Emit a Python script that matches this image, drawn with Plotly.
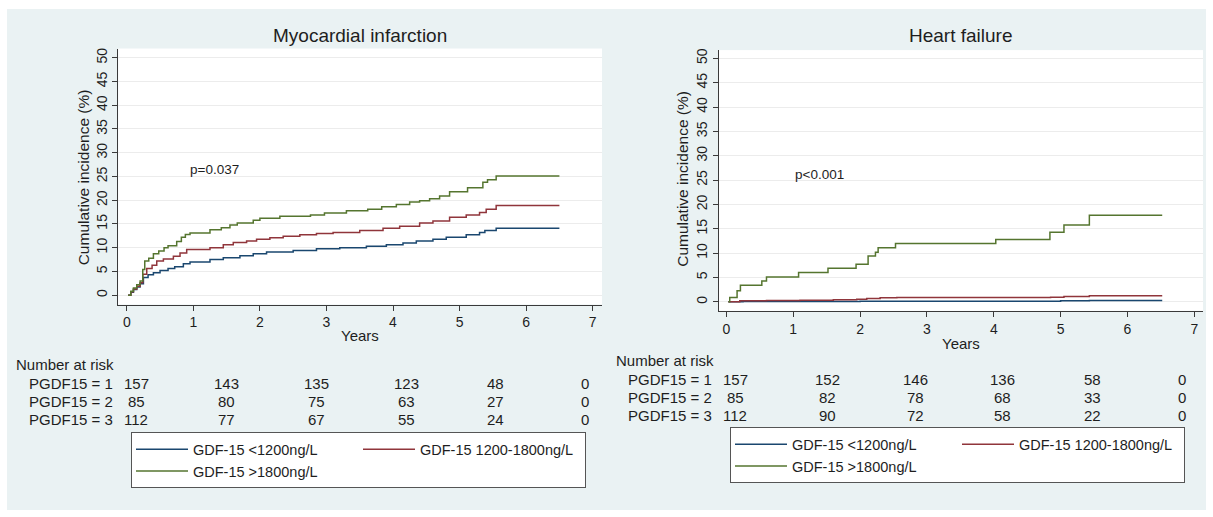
import plotly.graph_objects as go

# ---------------- data ----------------
SERIES_NAMES = ["GDF-15 <1200ng/L", "GDF-15 1200-1800ng/L", "GDF-15 >1800ng/L"]
SERIES_COLORS = ["rgb(26,71,111)", "rgb(144,53,59)", "rgb(85,117,47)"]

# Myocardial infarction (years, cumulative incidence %)
MI_T_LOW = [0.02, 0.06, 0.10, 0.15, 0.20, 0.25, 0.32, 0.40, 0.50, 0.62, 0.72, 0.85, 0.95, 1.25, 1.45, 1.70,
            1.90, 2.10, 2.50, 2.85, 3.20, 3.60, 3.90, 4.15, 4.35, 4.60, 4.80, 5.10, 5.30, 5.38, 5.55, 6.50]
MI_V_LOW = [0, 0.6, 1.2, 1.7, 2.4, 3.7, 4.3, 4.7, 5.2, 5.6, 6.0, 6.6, 7.0, 7.5, 7.9, 8.3,
            8.7, 9.1, 9.4, 9.8, 10.0, 10.3, 10.6, 11.0, 11.4, 11.8, 12.2, 12.7, 13.2, 13.6, 14.1, 14.1]
MI_T_MID = [0.02, 0.06, 0.10, 0.15, 0.20, 0.24, 0.30, 0.38, 0.45, 0.55, 0.70, 0.80, 0.90, 1.25, 1.45, 1.60,
            1.80, 1.95, 2.15, 2.35, 2.60, 2.85, 3.10, 3.50, 3.85, 4.10, 4.40, 4.60, 4.85, 5.10, 5.30, 5.40,
            5.55, 6.50]
MI_V_MID = [0, 0.7, 1.3, 1.9, 2.6, 4.4, 5.6, 6.3, 7.2, 7.6, 8.2, 8.9, 9.6, 10.0, 10.6, 11.1,
            11.4, 11.8, 12.1, 12.4, 12.7, 13.0, 13.2, 13.6, 14.1, 14.5, 15.2, 15.6, 16.4, 16.9, 17.4, 18.1,
            18.9, 18.9]
MI_T_HIGH = [0.02, 0.06, 0.10, 0.15, 0.20, 0.24, 0.27, 0.33, 0.40, 0.48, 0.56, 0.62, 0.75, 0.82, 0.88, 0.95,
             1.25, 1.42, 1.55, 1.66, 1.90, 2.00, 2.30, 2.76, 2.97, 3.30, 3.62, 3.83, 4.05, 4.25, 4.40, 4.55,
             4.70, 4.85, 5.12, 5.35, 5.42, 5.55, 6.50]
MI_V_HIGH = [0, 0.8, 1.5, 2.2, 3.0, 5.4, 7.2, 7.8, 8.7, 9.3, 10.0, 10.4, 11.3, 12.2, 12.8, 13.1,
             13.8, 14.2, 14.8, 15.2, 15.8, 16.2, 16.6, 16.9, 17.3, 17.8, 18.1, 18.6, 19.1, 19.6, 19.9, 20.3,
             20.9, 21.8, 22.6, 23.8, 24.3, 25.1, 25.1]

# Heart failure
HF_T_LOW = [0.03, 0.25, 1.00, 2.00, 5.00, 5.43, 6.52]
HF_V_LOW = [0, 0.05, 0.08, 0.10, 0.20, 0.25, 0.25]
HF_T_MID = [0.03, 0.20, 0.60, 1.10, 1.60, 1.95, 2.10, 2.30, 2.55, 4.85, 5.05, 5.43, 6.52]
HF_V_MID = [0, 0.20, 0.30, 0.35, 0.45, 0.55, 0.70, 0.85, 0.90, 0.95, 1.10, 1.25, 1.25]
HF_T_HIGH = [0.03, 0.05, 0.16, 0.21, 0.53, 0.60, 1.08, 1.52, 1.94, 2.12, 2.23, 2.27, 2.53, 4.03, 4.84,
             5.05, 5.43, 6.52]
HF_V_HIGH = [0, 0.9, 2.3, 3.4, 4.3, 5.1, 6.0, 6.9, 7.7, 9.4, 10.2, 11.1, 12.0, 12.8, 14.3,
             15.8, 17.8, 17.8]

X_TICKS = [0, 1, 2, 3, 4, 5, 6, 7]
Y_TICKS = [0, 5, 10, 15, 20, 25, 30, 35, 40, 45, 50]

RISK_ROW_LABELS = ["PGDF15 = 1", "PGDF15 = 2", "PGDF15 = 3"]
MI_RISK_LOW = [157, 143, 135, 123, 48, 0]
MI_RISK_MID = [85, 80, 75, 63, 27, 0]
MI_RISK_HIGH = [112, 77, 67, 55, 24, 0]
HF_RISK_LOW = [157, 152, 146, 136, 58, 0]
HF_RISK_MID = [85, 82, 78, 68, 33, 0]
HF_RISK_HIGH = [112, 90, 72, 58, 22, 0]

MI_TITLE = "Myocardial infarction"
HF_TITLE = "Heart failure"
MI_P = "p=0.037"
HF_P = "p<0.001"

# ---------------- layout helpers ----------------
W, H = 1213, 517
FONT = "Arial, 'Liberation Sans', sans-serif"
TXT = "#1e1e1e"


def fx(p):
    return p / W


def fy(p):
    return 1 - p / H


fig = go.Figure()

panels = [
    dict(xa="x", ya="y", legend="legend",
         data=[(MI_T_LOW, MI_V_LOW), (MI_T_MID, MI_V_MID), (MI_T_HIGH, MI_V_HIGH)]),
    dict(xa="x2", ya="y2", legend="legend2",
         data=[(HF_T_LOW, HF_V_LOW), (HF_T_MID, HF_V_MID), (HF_T_HIGH, HF_V_HIGH)]),
]
groups = ["a", "b", "a"]
for p in panels:
    for i, (t, v) in enumerate(p["data"]):
        fig.add_trace(go.Scatter(
            x=t, y=v, mode="lines", line=dict(color=SERIES_COLORS[i], width=1.5, shape="hv"),
            name=SERIES_NAMES[i], xaxis=p["xa"], yaxis=p["ya"], legend=p["legend"],
            legendgroup=p["legend"] + groups[i], hoverinfo="skip"))

axis_common = dict(showline=True, linecolor="#3a3a3a", linewidth=1, ticks="outside", ticklen=5,
                   tickwidth=1, tickcolor="#3a3a3a", zeroline=False,
                   tickfont=dict(family=FONT, size=14, color=TXT))
xcommon = dict(axis_common, showgrid=False, tickvals=X_TICKS)
ycommon = dict(axis_common, showgrid=True, gridcolor="#ececec", gridwidth=1, tickvals=Y_TICKS,
               tickangle=-90)

legend_common = dict(orientation="h", xanchor="left", yanchor="top", bgcolor="white",
                     bordercolor="#555555", borderwidth=1, traceorder="grouped",
                     itemwidth=52, entrywidth=160, tracegroupgap=0,
                     font=dict(family=FONT, size=14.5, color=TXT))

fig.update_layout(
    width=W, height=H, margin=dict(l=0, r=0, t=0, b=0),
    paper_bgcolor="#eaf2f3", plot_bgcolor="white",
    font=dict(family=FONT, color=TXT),
    xaxis=dict(xcommon, domain=[fx(118.2), fx(602)], range=[-0.129, 7.14], anchor="y"),
    yaxis=dict(ycommon, domain=[fy(303.7), fy(46.7)], range=[-1.97, 51.95], anchor="x"),
    xaxis2=dict(xcommon, domain=[fx(718.7), fx(1203)], range=[-0.115, 7.13], anchor="y2"),
    yaxis2=dict(ycommon, domain=[fy(310), fy(48.3)], range=[-1.84, 51.7], anchor="x2"),
    legend=dict(legend_common, x=fx(131), y=fy(432)),
    legend2=dict(legend_common, x=fx(730), y=fy(427)),
    showlegend=True,
)

# white outer frame
fig.add_shape(type="rect", xref="paper", yref="paper", x0=0, y0=0, x1=1, y1=1,
              line=dict(color="white", width=14), fillcolor="rgba(0,0,0,0)", layer="above")

ann = []


def txt(x, y, s, size, xanchor="center", angle=0, xref="paper", yref="paper"):
    ann.append(dict(x=x, y=y, text=s, xref=xref, yref=yref, xanchor=xanchor, yanchor="middle",
                    showarrow=False, textangle=angle, font=dict(family=FONT, size=size, color=TXT)))


# titles, axis titles, p-values
txt(fx(360), fy(34), MI_TITLE, 19)
txt(fx(961), fy(34), HF_TITLE, 19)
txt(fx(360), fy(335), "Years", 15)
txt(fx(961), fy(343), "Years", 15)
txt(fx(83), fy(176), "Cumulative incidence (%)", 15.5, angle=-90)
txt(fx(682.5), fy(178), "Cumulative incidence (%)", 15.5, angle=-90)
txt(0.92, 26.5, MI_P, 13.5, xanchor="left", xref="x", yref="y")
txt(1.0, 26.2, HF_P, 13.5, xanchor="left", xref="x2", yref="y2")

# risk tables
tables = [
    dict(head=(14, 364), lab_x=27, rows_y=[383, 401, 419], cols=[136, 226, 316, 406, 495, 585],
         vals=[MI_RISK_LOW, MI_RISK_MID, MI_RISK_HIGH]),
    dict(head=(614, 360), lab_x=626, rows_y=[379, 397, 415], cols=[735, 827, 915, 1003, 1092, 1182],
         vals=[HF_RISK_LOW, HF_RISK_MID, HF_RISK_HIGH]),
]
for tb in tables:
    txt(fx(tb["head"][0]), fy(tb["head"][1]), "Number at risk", 15, xanchor="left")
    for r, ry in enumerate(tb["rows_y"]):
        txt(fx(tb["lab_x"]), fy(ry), RISK_ROW_LABELS[r], 15, xanchor="left")
        for c, cx in enumerate(tb["cols"]):
            txt(fx(cx), fy(ry), str(tb["vals"][r][c]), 15)

fig.update_layout(annotations=ann)

fig.write_html("out.html")
